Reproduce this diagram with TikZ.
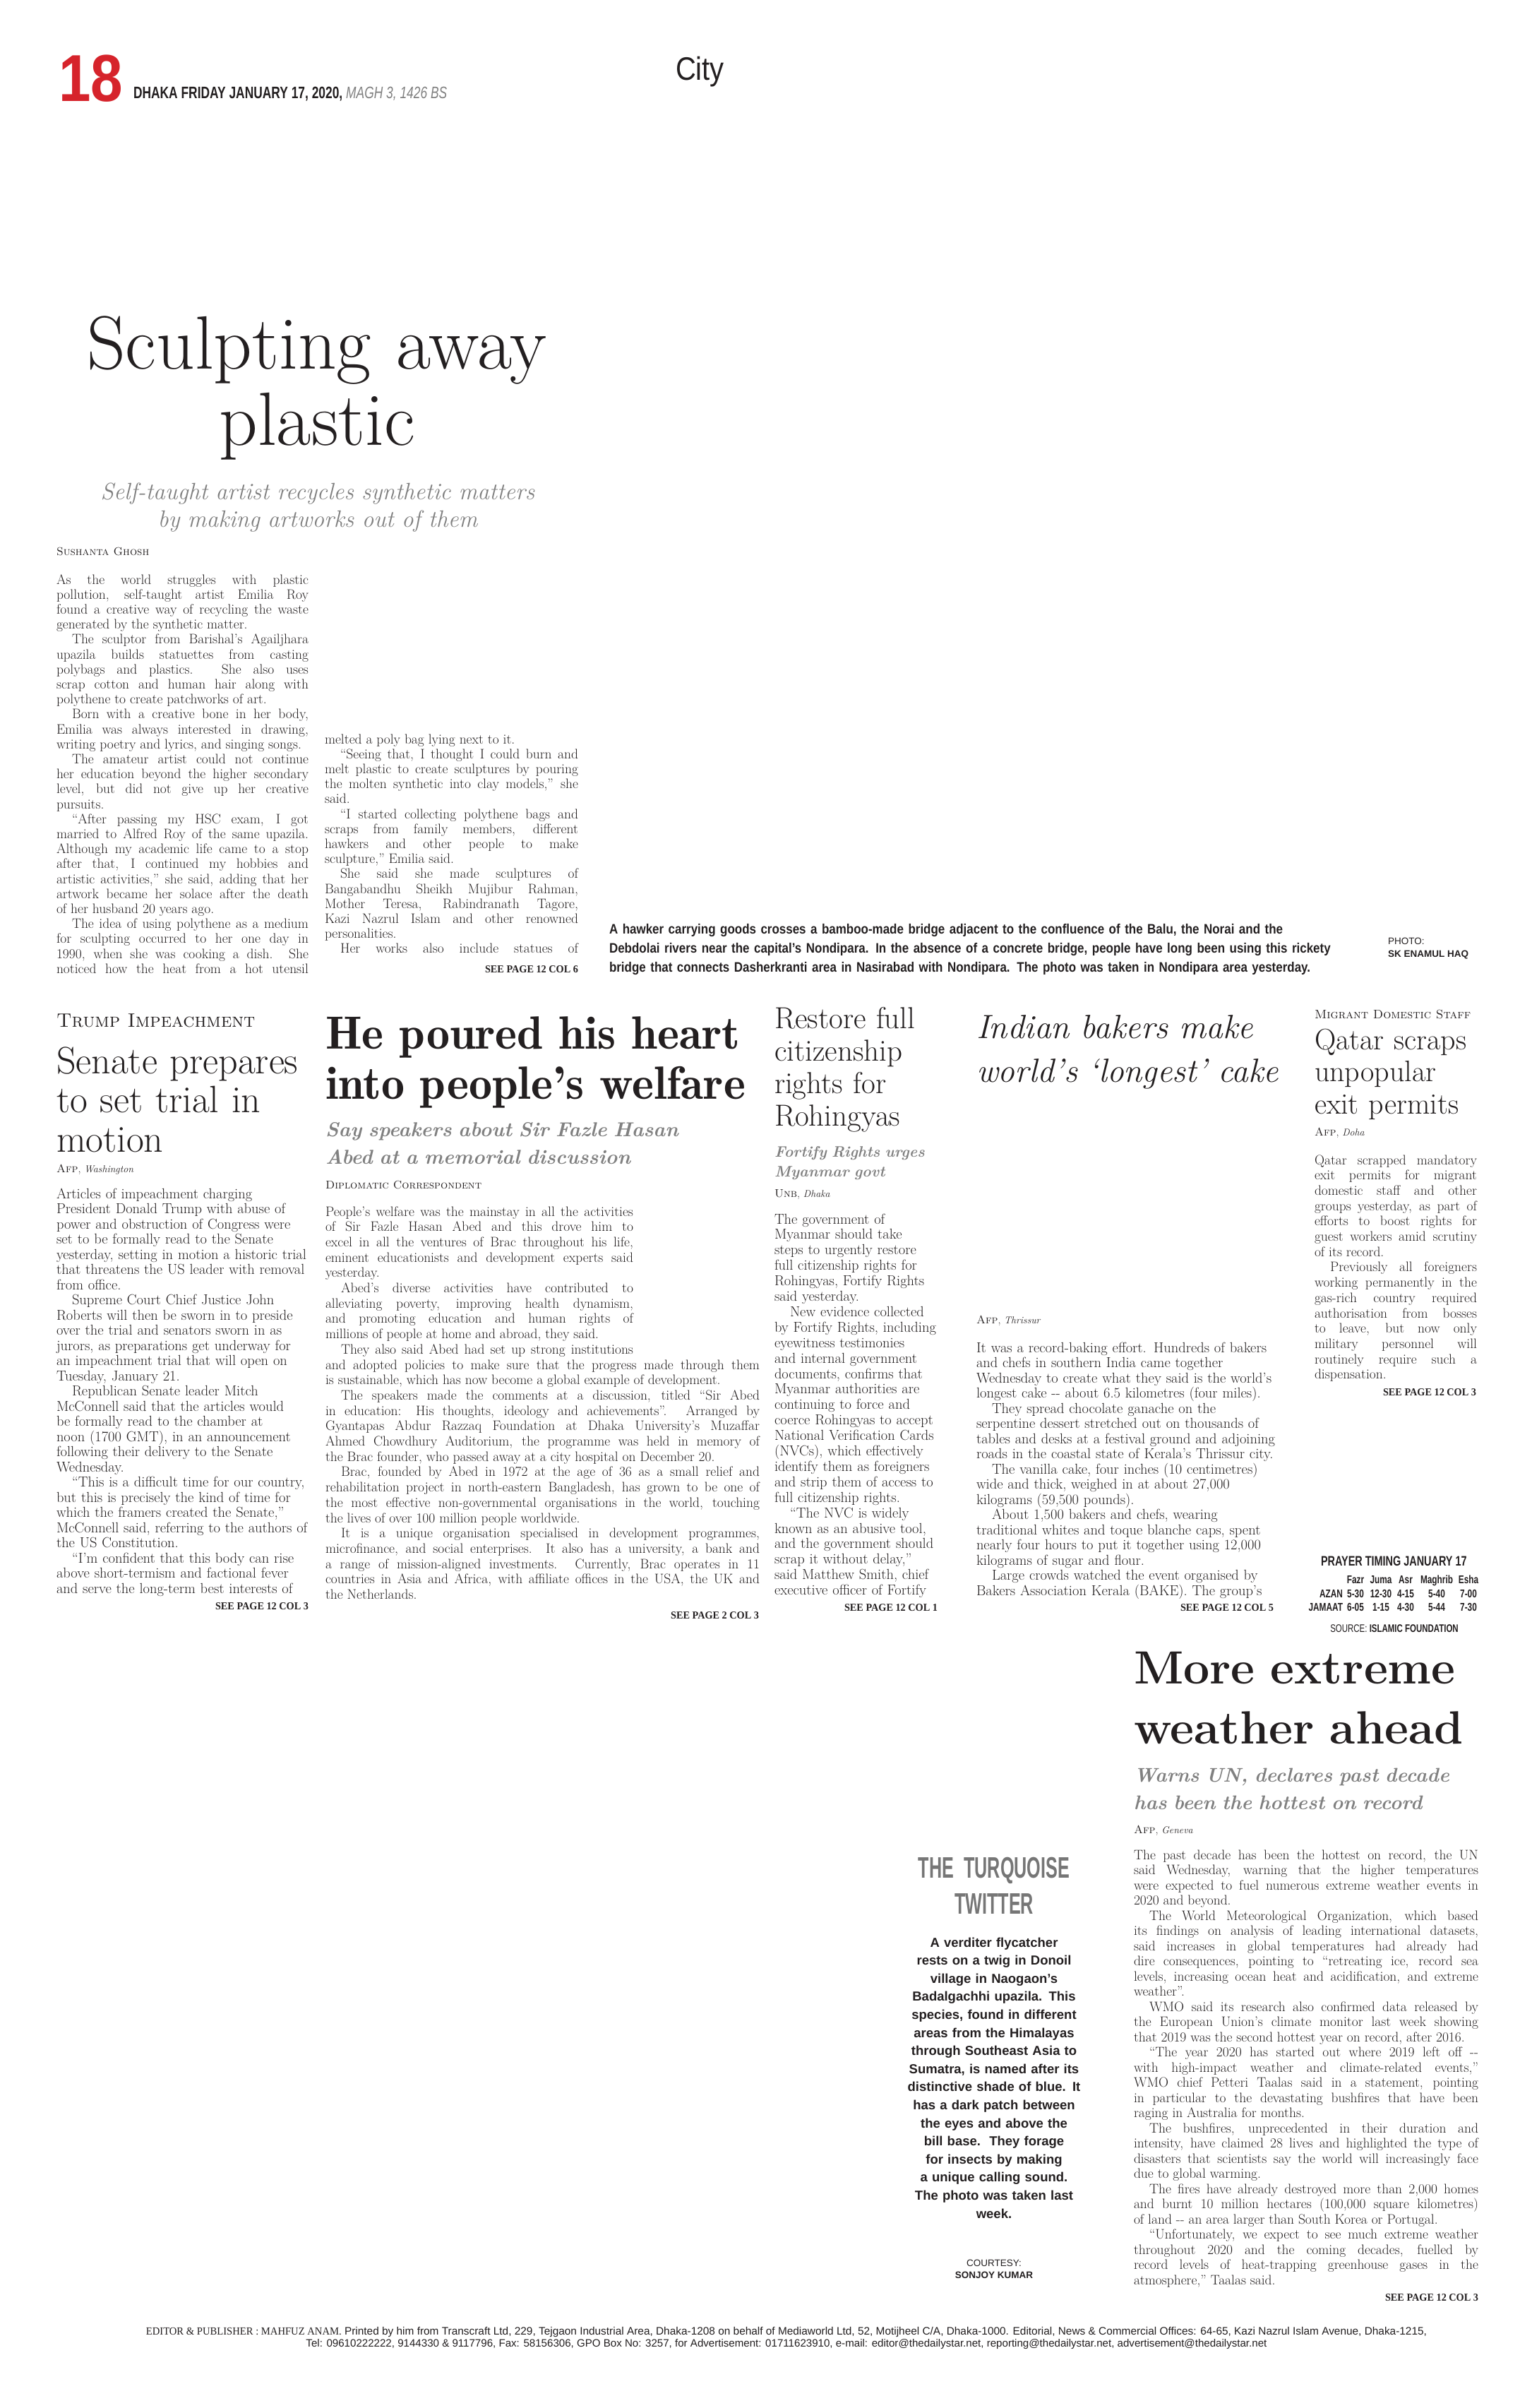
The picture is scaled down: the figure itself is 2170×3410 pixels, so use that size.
\documentclass[tikz,border=0pt]{standalone}
\usepackage{fontspec}
\newfontfamily\condsans{Liberation Sans}[FakeStretch=0.74]
\newfontfamily\capsans{Liberation Sans}[FakeStretch=0.87]
\newfontfamily\narrowsans{Liberation Sans}[FakeStretch=0.6]
\newfontfamily\plainsans{Liberation Sans}
\newfontfamily\seefont{Liberation Serif}[FakeStretch=0.95]
\newfontfamily\demiserif{lmromandemi10-regular.otf}

\definecolor{ink}{RGB}{35,31,32}
\definecolor{pagered}{RGB}{214,35,43}
\definecolor{subgray}{RGB}{128,128,128}
\definecolor{titlegray}{RGB}{118,118,118}

\tolerance=10000
\hbadness=10000
\hyphenpenalty=10000
\exhyphenpenalty=10000

\newcommand{\brk}{\linebreak}
\newcommand{\npara}{\par\hspace*{22pt}}
\newcommand{\colend}{{\parfillskip=0pt\par}}

\begin{document}
\begin{tikzpicture}[x=1pt, y=-1pt,
    every node/.style={inner sep=0pt, outer sep=0pt, text=ink},
    body/.style 2 args={anchor=base west, text width=#1pt, align=justify, font=\fontsize{19.5}{#2}\selectfont},
    ragged/.style 2 args={anchor=base west, text width=#1pt, align=left, font=\fontsize{20.5}{#2}\selectfont},
    head/.style={anchor=base west, text width=700pt, align=left},
    byline/.style={anchor=base west, font=\fontsize{16}{18}\selectfont},
    kicker/.style={anchor=base west, font=\scshape\fontsize{#1}{#1}\selectfont},
    subhead/.style 2 args={anchor=base west, text width=700pt, align=left, text=subgray, font=\bfseries\itshape\fontsize{#1}{#2}\selectfont},
    seepage/.style={anchor=base east, font=\seefont\bfseries\fontsize{15}{15}\selectfont},
    credit/.style={anchor=base, font=\plainsans\fontsize{13.5}{14}\selectfont},
    creditname/.style={anchor=base, font=\plainsans\bfseries\fontsize{13.5}{14}\selectfont},
    prayer/.style={anchor=base, font=\condsans\bfseries\fontsize{16}{16}\selectfont},
    prayerlabel/.style={anchor=base east, font=\condsans\bfseries\fontsize{16}{16}\selectfont}]
    \fill[white] (0,0) rectangle (2170,3410);
    \useasboundingbox (0,0) rectangle (2170,3410);
    % page head
    \node[anchor=base west, text=pagered, font=\capsans\bfseries\fontsize{94}{94}\selectfont] (pagenum) at (83,143) {18};
    \node[anchor=base west, font=\condsans\bfseries\fontsize{23.5}{24}\selectfont] (dateline) at (189,139) {DHAKA FRIDAY JANUARY 17, 2020, \textcolor{subgray}{\mdseries\itshape MAGH 3, 1426 BS}};
    \node[anchor=base west, font=\capsans\fontsize{46}{46}\selectfont] (section) at (957,113) {City};
    % sculpting away plastic
    \node[anchor=base, text width=800pt, align=center, font=\fontsize{107}{108}\selectfont] (plastichead) at (449,522) {Sculpting away\\plastic};
    \node[anchor=base, text width=800pt, align=center, text=subgray, font=\itshape\fontsize{33.5}{39}\selectfont] (plasticsub) at (450,707) {Self-taught artist recycles synthetic matters\\by making artworks out of them};
    \node[byline] (plasticby) at (80,786) {\scshape Sushanta Ghosh};
    \node[body={357}{21.2}] (plasticcola) at (80,827) {As the world struggles with plastic\brk
pollution, self-taught artist Emilia Roy\brk
found a creative way of recycling the waste\brk
generated by the synthetic matter.\npara
The sculptor from Barishal’s Agailjhara\brk
upazila builds statuettes from casting\brk
polybags and plastics. She also uses\brk
scrap cotton and human hair along with\brk
polythene to create patchworks of art.\npara
Born with a creative bone in her body,\brk
Emilia was always interested in drawing,\brk
writing poetry and lyrics, and singing songs.\npara
The amateur artist could not continue\brk
her education beyond the higher secondary\brk
level, but did not give up her creative\brk
pursuits.\npara
“After passing my HSC exam, I got\brk
married to Alfred Roy of the same upazila.\brk
Although my academic life came to a stop\brk
after that, I continued my hobbies and\brk
artistic activities,” she said, adding that her\brk
artwork became her solace after the death\brk
of her husband 20 years ago.\npara
The idea of using polythene as a medium\brk
for sculpting occurred to her one day in\brk
1990, when she was cooking a dish. She\brk
noticed how the heat from a hot utensil\colend};
    \node[body={359}{21.2}] (plasticcolb) at (460,1053) {melted a poly bag lying next to it.\npara
“Seeing that, I thought I could burn and\brk
melt plastic to create sculptures by pouring\brk
the molten synthetic into clay models,” she\brk
said.\npara
“I started collecting polythene bags and\brk
scraps from family members, different\brk
hawkers and other people to make\brk
sculpture,” Emilia said.\npara
She said she made sculptures of\brk
Bangabandhu Sheikh Mujibur Rahman,\brk
Mother Teresa, Rabindranath Tagore,\brk
Kazi Nazrul Islam and other renowned\brk
personalities.\npara
Her works also include statues of\colend};
    \node[seepage] (plasticsee) at (819,1377) {SEE PAGE 12 COL 6};
    % photo caption
    \node[anchor=base west, text width=1100pt, align=left, font=\capsans\bfseries\fontsize{19.5}{27}\selectfont] (bridgecap) at (863,1322) {A hawker carrying goods crosses a bamboo-made bridge adjacent to the confluence of the Balu, the Norai and the\\Debdolai rivers near the capital’s Nondipara. In the absence of a concrete bridge, people have long been using this rickety\\bridge that connects Dasherkranti area in Nasirabad with Nondipara. The photo was taken in Nondipara area yesterday.};
    \node[anchor=base west, font=\plainsans\fontsize{13.5}{14}\selectfont] (bridgephoto) at (1966,1337) {PHOTO:};
    \node[anchor=base west, font=\plainsans\bfseries\fontsize{13.5}{14}\selectfont] (bridgename) at (1966,1355) {SK ENAMUL HAQ};
    % trump impeachment
    \node[kicker=27.5] (trumpkick) at (80,1454) {Trump Impeachment};
    \node[head, font=\fontsize{54}{55.5}\selectfont] (trumphead) at (80,1520) {Senate prepares\\to set trial in\\motion};
    \node[byline] (trumpby) at (80,1660) {{\scshape Afp}, {\itshape\fontsize{14}{16}\selectfont Washington}};
    \node[ragged={370}{21.5}] (trumpbody) at (80,1697) {Articles of impeachment charging\brk
President Donald Trump with abuse of\brk
power and obstruction of Congress were\brk
set to be formally read to the Senate\brk
yesterday, setting in motion a historic trial\brk
that threatens the US leader with removal\brk
from office.\npara
Supreme Court Chief Justice John\brk
Roberts will then be sworn in to preside\brk
over the trial and senators sworn in as\brk
jurors, as preparations get underway for\brk
an impeachment trial that will open on\brk
Tuesday, January 21.\npara
Republican Senate leader Mitch\brk
McConnell said that the articles would\brk
be formally read to the chamber at\brk
noon (1700 GMT), in an announcement\brk
following their delivery to the Senate\brk
Wednesday.\npara
“This is a difficult time for our country,\brk
but this is precisely the kind of time for\brk
which the framers created the Senate,”\brk
McConnell said, referring to the authors of\brk
the US Constitution.\npara
“I’m confident that this body can rise\brk
above short-termism and factional fever\brk
and serve the long-term best interests of};
    \node[seepage] (trumpsee) at (437,2279) {SEE PAGE 12 COL 3};
    % abed memorial
    \node[head, font=\demiserif\fontsize{66}{71}\selectfont] (abedhead) at (461,1485) {He poured his heart\\into people’s welfare};
    \node[subhead={28.5}{39}] (abedsub) at (461,1609) {Say speakers about Sir Fazle Hasan\\Abed at a memorial discussion};
    \node[byline] (abedby) at (461,1683) {\scshape Diplomatic Correspondent};
    \node[body={436}{21.7}] (abednarrow) at (461,1722) {People’s welfare was the mainstay in all the activities\brk
of Sir Fazle Hasan Abed and this drove him to\brk
excel in all the ventures of Brac throughout his life,\brk
eminent educationists and development experts said\brk
yesterday.\npara
Abed’s diverse activities have contributed to\brk
alleviating poverty, improving health dynamism,\brk
and promoting education and human rights of\brk
millions of people at home and abroad, they said.\npara
They also said Abed had set up strong institutions\colend};
    \node[body={615}{21.7}] (abedwide) at (461,1939) {and adopted policies to make sure that the progress made through them\brk
is sustainable, which has now become a global example of development.\npara
The speakers made the comments at a discussion, titled “Sir Abed\brk
in education: His thoughts, ideology and achievements”. Arranged by\brk
Gyantapas Abdur Razzaq Foundation at Dhaka University’s Muzaffar\brk
Ahmed Chowdhury Auditorium, the programme was held in memory of\brk
the Brac founder, who passed away at a city hospital on December 20.\npara
Brac, founded by Abed in 1972 at the age of 36 as a small relief and\brk
rehabilitation project in north-eastern Bangladesh, has grown to be one of\brk
the most effective non-governmental organisations in the world, touching\brk
the lives of over 100 million people worldwide.\npara
It is a unique organisation specialised in development programmes,\brk
microfinance, and social enterprises. It also has a university, a bank and\brk
a range of mission-aligned investments. Currently, Brac operates in 11\brk
countries in Asia and Africa, with affiliate offices in the USA, the UK and\brk
the Netherlands.};
    \node[seepage] (abedsee) at (1075,2292) {SEE PAGE 2 COL 3};
    % rohingya citizenship
    \node[head, font=\fontsize{43}{46}\selectfont] (rohinghead) at (1097,1456) {Restore full\\citizenship\\rights for\\Rohingyas};
    \node[subhead={21.5}{28}] (rohingsub) at (1097,1638) {Fortify Rights urges\\Myanmar govt};
    \node[byline] (rohingby) at (1097,1695) {{\scshape Unb}, {\itshape\fontsize{14}{16}\selectfont Dhaka}};
    \node[ragged={272}{21.9}] (rohingbody) at (1097,1733) {The government of\brk
Myanmar should take\brk
steps to urgently restore\brk
full citizenship rights for\brk
Rohingyas, Fortify Rights\brk
said yesterday.\npara
New evidence collected\brk
by Fortify Rights, including\brk
eyewitness testimonies\brk
and internal government\brk
documents, confirms that\brk
Myanmar authorities are\brk
continuing to force and\brk
coerce Rohingyas to accept\brk
National Verification Cards\brk
(NVCs), which effectively\brk
identify them as foreigners\brk
and strip them of access to\brk
full citizenship rights.\npara
“The NVC is widely\brk
known as an abusive tool,\brk
and the government should\brk
scrap it without delay,”\brk
said Matthew Smith, chief\brk
executive officer of Fortify};
    \node[seepage] (rohingsee) at (1328,2281) {SEE PAGE 12 COL 1};
    % longest cake
    \node[head, font=\itshape\fontsize{47.5}{62}\selectfont] (cakehead) at (1383,1470) {Indian bakers make\\world’s ‘longest’ cake};
    \node[byline] (cakeby) at (1383,1874) {{\scshape Afp}, {\itshape\fontsize{14}{16}\selectfont Thrissur}};
    \node[ragged={440}{21.5}] (cakebody) at (1383,1915) {It was a record-baking effort. Hundreds of bakers\brk
and chefs in southern India came together\brk
Wednesday to create what they said is the world’s\brk
longest cake -{}- about 6.5 kilometres (four miles).\npara
They spread chocolate ganache on the\brk
serpentine dessert stretched out on thousands of\brk
tables and desks at a festival ground and adjoining\brk
roads in the coastal state of Kerala’s Thrissur city.\npara
The vanilla cake, four inches (10 centimetres)\brk
wide and thick, weighed in at about 27,000\brk
kilograms (59,500 pounds).\npara
About 1,500 bakers and chefs, wearing\brk
traditional whites and toque blanche caps, spent\brk
nearly four hours to put it together using 12,000\brk
kilograms of sugar and flour.\npara
Large crowds watched the event organised by\brk
Bakers Association Kerala (BAKE). The group’s};
    \node[seepage] (cakesee) at (1804,2281) {SEE PAGE 12 COL 5};
    % qatar exit permits
    \node[kicker=17.5] (qatarkick) at (1862,1442) {Migrant Domestic Staff};
    \node[head, font=\fontsize{42}{45.5}\selectfont] (qatarhead) at (1862,1486) {Qatar scraps\\unpopular\\exit permits};
    \node[byline] (qatarby) at (1862,1608) {{\scshape Afp}, {\itshape\fontsize{14}{16}\selectfont Doha}};
    \node[body={230}{21.7}] (qatarbody) at (1862,1649) {Qatar scrapped mandatory\brk
exit permits for migrant\brk
domestic staff and other\brk
groups yesterday, as part of\brk
efforts to boost rights for\brk
guest workers amid scrutiny\brk
of its record.\npara
Previously all foreigners\brk
working permanently in the\brk
gas-rich country required\brk
authorisation from bosses\brk
to leave, but now only\brk
military personnel will\brk
routinely require such a\brk
dispensation.};
    \node[seepage] (qatarsee) at (2091,1976) {SEE PAGE 12 COL 3};
    % prayer timing
    \node[anchor=base west, font=\condsans\bfseries\fontsize{19.5}{20}\selectfont] (prayerhead) at (1871,2217) {PRAYER TIMING JANUARY 17};
    \node[prayer] (fazr) at (1920,2242) {Fazr};
    \node[prayer] (juma) at (1956,2242) {Juma};
    \node[prayer] (asr) at (1991,2242) {Asr};
    \node[prayer] (maghrib) at (2035,2242) {Maghrib};
    \node[prayer] (esha) at (2080,2242) {Esha};
    \node[prayerlabel] (azan) at (1902,2262) {AZAN};
    \node[prayer] (azanfazr) at (1920,2262) {5-30};
    \node[prayer] (azanjuma) at (1956,2262) {12-30};
    \node[prayer] (azanasr) at (1991,2262) {4-15};
    \node[prayer] (azanmaghrib) at (2035,2262) {5-40};
    \node[prayer] (azanesha) at (2080,2262) {7-00};
    \node[prayerlabel] (jamaat) at (1902,2281) {JAMAAT};
    \node[prayer] (jamaatfazr) at (1920,2281) {6-05};
    \node[prayer] (jamaatjuma) at (1956,2281) {1-15};
    \node[prayer] (jamaatasr) at (1991,2281) {4-30};
    \node[prayer] (jamaatmaghrib) at (2035,2281) {5-44};
    \node[prayer] (jamaatesha) at (2080,2281) {7-30};
    \node[anchor=base, font=\condsans\fontsize{15.5}{16}\selectfont] (prayersource) at (1975,2311) {SOURCE: \bfseries ISLAMIC FOUNDATION};
    % extreme weather
    \node[head, font=\bfseries\fontsize{66}{85}\selectfont] (weatherhead) at (1606,2384) {More extreme\\weather ahead};
    \node[subhead={28}{39}] (weathersub) at (1606,2523) {Warns UN, declares past decade\\has been the hottest on record};
    \node[byline] (weatherby) at (1606,2596) {{\scshape Afp}, {\itshape\fontsize{14}{16}\selectfont Geneva}};
    \node[body={488}{21.5}] (weatherbody) at (1606,2633) {The past decade has been the hottest on record, the UN\brk
said Wednesday, warning that the higher temperatures\brk
were expected to fuel numerous extreme weather events in\brk
2020 and beyond.\npara
The World Meteorological Organization, which based\brk
its findings on analysis of leading international datasets,\brk
said increases in global temperatures had already had\brk
dire consequences, pointing to “retreating ice, record sea\brk
levels, increasing ocean heat and acidification, and extreme\brk
weather”.\npara
WMO said its research also confirmed data released by\brk
the European Union’s climate monitor last week showing\brk
that 2019 was the second hottest year on record, after 2016.\npara
“The year 2020 has started out where 2019 left off -{}-\brk
with high-impact weather and climate-related events,”\brk
WMO chief Petteri Taalas said in a statement, pointing\brk
in particular to the devastating bushfires that have been\brk
raging in Australia for months.\npara
The bushfires, unprecedented in their duration and\brk
intensity, have claimed 28 lives and highlighted the type of\brk
disasters that scientists say the world will increasingly face\brk
due to global warming.\npara
The fires have already destroyed more than 2,000 homes\brk
and burnt 10 million hectares (100,000 square kilometres)\brk
of land -{}- an area larger than South Korea or Portugal.\npara
“Unfortunately, we expect to see much extreme weather\brk
throughout 2020 and the coming decades, fuelled by\brk
record levels of heat-trapping greenhouse gases in the\brk
atmosphere,” Taalas said.};
    \node[seepage] (weathersee) at (2094,3258) {SEE PAGE 12 COL 3};
    % turquoise twitter
    \node[anchor=base, text width=300pt, align=center, text=titlegray, font=\narrowsans\bfseries\fontsize{42}{51}\selectfont] (birdhead) at (1408,2659) {THE TURQUOISE\\TWITTER};
    \node[anchor=base, text width=300pt, align=center, font=\plainsans\bfseries\fontsize{18.5}{25.6}\selectfont] (birdcap) at (1408,2757) {A verditer flycatcher\\rests on a twig in Donoil\\village in Naogaon’s\\Badalgachhi upazila. This\\species, found in different\\areas from the Himalayas\\through Southeast Asia to\\Sumatra, is named after its\\distinctive shade of blue. It\\has a dark patch between\\the eyes and above the\\bill base.\ \ They forage\\for insects by making\\a unique calling sound.\\The photo was taken last\\week.};
    \node[credit] (birdlabel) at (1408,3209) {COURTESY:};
    \node[creditname] (birdname) at (1408,3226) {SONJOY KUMAR};
    % imprint
    \node[anchor=base, font=\plainsans\fontsize{15.4}{17}\selectfont] (imprinta) at (1114,3306) {{\seefont EDITOR \& PUBLISHER : MAHFUZ ANAM.} Printed by him from Transcraft Ltd, 229, Tejgaon Industrial Area, Dhaka-1208 on behalf of Mediaworld Ltd, 52, Motijheel C/A, Dhaka-1000. Editorial, News \& Commercial Offices: 64-65, Kazi Nazrul Islam Avenue, Dhaka-1215,};
    \node[anchor=base, font=\plainsans\fontsize{15.1}{17}\selectfont] (imprintb) at (1114,3323) {Tel: 09610222222, 9144330 \& 9117796, Fax: 58156306, GPO Box No: 3257, for Advertisement: 01711623910, e-mail: editor@thedailystar.net, reporting@thedailystar.net, advertisement@thedailystar.net};
\end{tikzpicture}
\end{document}
